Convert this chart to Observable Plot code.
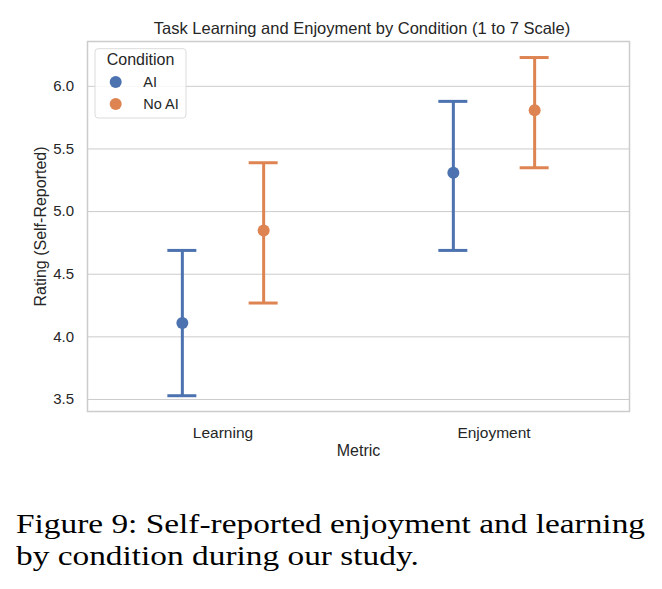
<!DOCTYPE html>
<html>
<head>
<meta charset="utf-8">
<script src="https://cdn.jsdelivr.net/npm/d3@7"></script>
<script src="https://cdn.jsdelivr.net/npm/@observablehq/plot@0.6"></script>
<style>
  body { margin: 0; background: #fff; width: 662px; height: 589px; position: relative; overflow: hidden; }
  #title { position: absolute; left: 0; top: 18px; width: 662px; box-sizing: border-box; padding-left: 62px;
           font: 16.5px "Liberation Sans", Arial, sans-serif; color: #262626; text-align: center;
           line-height: 20px; white-space: nowrap; }
  #chart { position: absolute; left: 0; top: 38px; }
  #caption { position: absolute; left: 16px; top: 508px; font: 26.5px "Liberation Serif", "Times New Roman", serif;
             color: #000; line-height: 32px; white-space: nowrap; transform-origin: 0 0; }
  #caption span { display: block; }
</style>
</head>
<body>
<div id="title">Task Learning and Enjoyment by Condition (1 to 7 Scale)</div>
<div id="chart"></div>
<div id="caption"><span id="cap1">Figure 9: Self-reported enjoyment and learning</span><span id="cap2">by condition during our study.</span></div>
<script>
// Mean self-reported ratings with 95% confidence intervals
const metrics = ["Learning", "Enjoyment"];
const conditions = ["AI", "No AI"];
const meanAI = [4.11, 5.31];
const meanNoAI = [4.85, 5.81];
const lowAI = [3.53, 4.69];
const lowNoAI = [4.27, 5.35];
const highAI = [4.69, 5.88];
const highNoAI = [5.39, 6.23];
const yTicks = [3.5, 4.0, 4.5, 5.0, 5.5, 6.0];

const rows = [];
metrics.forEach((m, i) => {
  rows.push({metric: m, condition: "AI", mean: meanAI[i], low: lowAI[i], high: highAI[i]});
  rows.push({metric: m, condition: "No AI", mean: meanNoAI[i], low: lowNoAI[i], high: highNoAI[i]});
});

const width = 662, marginLeft = 87, marginRight = 33;
const band = (width - marginLeft - marginRight) / metrics.length;
const dodge = band * 0.15;   // horizontal offset of each condition within its metric
const capInset = (band - 29) / 2;
const palette = ["#4c72b0", "#dd8452"];
const ink = "#262626";

const marks = [
  Plot.gridY(yTicks, {stroke: "#cccccc", strokeOpacity: 1, strokeWidth: 1})
];
conditions.forEach((c, k) => {
  const data = rows.filter(d => d.condition === c);
  const dx = k === 0 ? -dodge : dodge;
  marks.push(
    Plot.ruleX(data, {x: "metric", y1: "low", y2: "high", stroke: "condition", strokeWidth: 3, dx}),
    Plot.tickY(data, {x: "metric", y: "low", stroke: "condition", strokeWidth: 3, dx, insetLeft: capInset, insetRight: capInset}),
    Plot.tickY(data, {x: "metric", y: "high", stroke: "condition", strokeWidth: 3, dx, insetLeft: capInset, insetRight: capInset}),
    Plot.dot(data, {x: "metric", y: "mean", fill: "condition", r: 6, dx})
  );
});
marks.push(
  Plot.frame({stroke: "#cccccc", strokeWidth: 1.5}),
  Plot.axisY({ticks: yTicks, tickFormat: d3.format(".1f"), tickSize: 0, tickPadding: 13.5, fontSize: 15, label: null}),
  Plot.axisX({tickSize: 0, tickPadding: 15, fontSize: 15.5, label: null}),
  Plot.text(["Metric"], {frameAnchor: "bottom", dy: 44, lineAnchor: "bottom", fontSize: 16, fill: ink}),
  Plot.text(["Rating (Self-Reported)"], {frameAnchor: "left", dx: -47, rotate: -90, textAnchor: "middle",
                                         lineAnchor: "middle", fontSize: 16, fill: ink})
);

const chart = Plot.plot({
  width,
  height: 428,
  marginTop: 3,
  marginBottom: 55,
  marginLeft,
  marginRight,
  style: {fontFamily: "'Liberation Sans', Arial, sans-serif", color: ink, background: "#fff"},
  x: {type: "band", domain: metrics, padding: 0, label: null},
  y: {domain: [3.404, 6.358], label: null},
  color: {domain: conditions, range: palette},
  marks
});
document.getElementById("chart").appendChild(chart);

// Legend box in the upper-left corner of the plot area
const color = chart.scale("color");
const lg = d3.select(chart).append("g").attr("transform", "translate(95,10.7)")
  .attr("font-family", "'Liberation Sans', Arial, sans-serif").attr("fill", ink);
lg.append("rect").attr("width", 91).attr("height", 69.3).attr("rx", 3)
  .attr("fill", "#fff").attr("fill-opacity", 0.85).attr("stroke", "#dcdcdc");
lg.append("text").attr("x", 45.5).attr("y", 16.6).attr("text-anchor", "middle")
  .attr("font-size", 16).text("Condition");
conditions.forEach((c, i) => {
  const cy = 33.3 + i * 22;
  lg.append("circle").attr("cx", 20.7).attr("cy", cy).attr("r", 6).attr("fill", color.apply(c));
  lg.append("text").attr("x", 48.3).attr("y", cy + 5.2).attr("text-anchor", "start")
    .attr("font-size", 14.5).text(c);
});

// Stretch the caption horizontally to its measured line width
const cap = document.getElementById("caption"), cap1 = document.getElementById("cap1");
const range = document.createRange();
range.selectNodeContents(cap1);
const natural = range.getBoundingClientRect().width;
cap.style.transform = `scaleX(${629 / natural})`;
</script>
</body>
</html>
